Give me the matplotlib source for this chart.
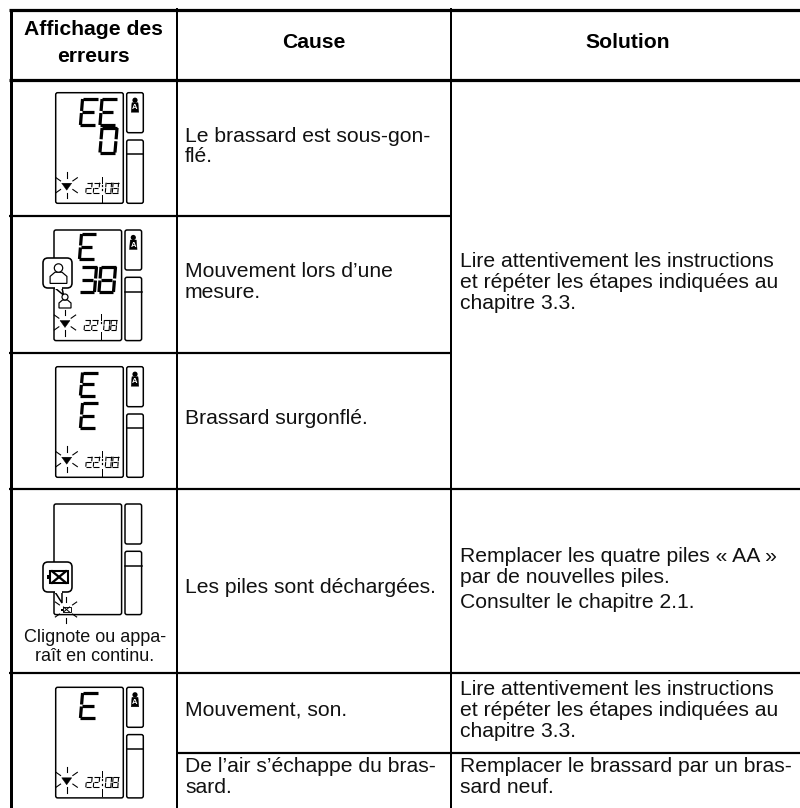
import math
import matplotlib
matplotlib.use('Agg')
import matplotlib.pyplot as plt
from matplotlib.patches import FancyBboxPatch, Polygon, Circle, Rectangle

plt.rcParams['font.family'] = ['Liberation Sans', 'DejaVu Sans']

# table content
headers = [['Affichage des', 'erreurs'], ['Cause'], ['Solution']]
cause_lines = [
    ['Le brassard est sous-gon-', 'flé.'],
    ['Mouvement lors d’une', 'mesure.'],
    ['Brassard surgonflé.'],
    ['Les piles sont déchargées.'],
    ['Mouvement, son.'],
    ['De l’air s’échappe du bras-', 'sard.'],
]
solution_lines = [
    ['Lire attentivement les instructions', 'et répéter les étapes indiquées au', 'chapitre 3.3.'],
    ['Remplacer les quatre piles « AA »', 'par de nouvelles piles.'],
    ['Consulter le chapitre 2.1.'],
    ['Lire attentivement les instructions', 'et répéter les étapes indiquées au', 'chapitre 3.3.'],
    ['Remplacer le brassard par un bras-', 'sard neuf.'],
]
caption = ['Clignote ou appa-', 'raît en continu.']
lcd_time = '22:08'

# baselines of the first line of each block (px)
cause_y = [141.7, 277, 424, 593, 716, 772]
solution_y = [267, 562, 608, 695, 772]
line_gap = 20.8

col_x = [10.5, 176.7, 451]
text_x = [185, 460]
major_y = [10, 79.5]
row_y = [216, 352.5, 489, 673]
sub_y = 752.5

SEGS = {
    'a': ((0, 1), (1, 1)), 'b': ((1, 1), (1, .54)), 'c': ((1, .46), (1, 0)),
    'd': ((0, 0), (1, 0)), 'e': ((0, .46), (0, 0)), 'f': ((0, 1), (0, .54)),
    'g': ((0.05, .5), (.8, .5)),
}
DIGITS = {'E': 'adefg', '0': 'abcdef', '3': 'abcdg', '8': 'abcdefg', '2': 'abdeg'}

fig = plt.figure(figsize=(8, 8.08), dpi=100)
ax = fig.add_axes([0, 0, 1, 1])
ax.set_xlim(0, 800)
ax.set_ylim(808, 0)
ax.axis('off')


def px(w):
    return w * 0.72


def digit(ch, x, y, w, h, lw=3.2, skew=0.14):
    # x,y = top left of the cell
    for s in DIGITS[ch]:
        (x1, y1), (x2, y2) = SEGS[s]
        xs = [x + (x1 + skew * y1 - skew / 2) * w, x + (x2 + skew * y2 - skew / 2) * w]
        ys = [y + (1 - y1) * h, y + (1 - y2) * h]
        ax.plot(xs, ys, color='black', lw=px(lw), solid_capstyle='butt', zorder=4)


def round_box(x, y, w, h, r=2.0, lw=1.5, z=3):
    ax.add_patch(FancyBboxPatch((x + r, y + r), w - 2 * r, h - 2 * r,
                                boxstyle=f'round,pad={r},rounding_size={r}',
                                fc='white', ec='black', lw=px(lw), zorder=z))


def blink(cx, cy, r1=7.5, r2=13):
    for a in (90, 270, 35, 145, 215, 325):
        t = math.radians(a)
        ax.plot([cx + r1 * math.cos(t), cx + r2 * math.cos(t)],
                [cy + r1 * math.sin(t), cy + r2 * math.sin(t)],
                color='black', lw=px(1.1), zorder=6)


def small_person(x, y):
    ax.add_patch(Circle((x, y - 5.5), 2.6, fc='black', ec='black', lw=0, zorder=5))
    ax.add_patch(Polygon([(x - 3.8, y + 6.5), (x - 3, y - 3), (x + 3, y - 3), (x + 3.8, y + 6.5)],
                         fc='black', ec='black', lw=0.3, zorder=5))
    ax.text(x, y + 2.2, 'A', color='white', fontsize=5.5, fontweight='bold',
            ha='center', va='center', zorder=6)


def outline_person(x, y, s=1.0):
    ax.add_patch(Circle((x, y - 5 * s), 3 * s, fc='white', ec='black', lw=px(1.2), zorder=7))
    ax.add_patch(Polygon([(x - 6 * s, y + 6 * s), (x - 6 * s, y + 1 * s), (x - 2.5 * s, y - 2 * s),
                          (x + 2.5 * s, y - 2 * s), (x + 6 * s, y + 1 * s), (x + 6 * s, y + 6 * s)],
                         fc='white', ec='black', lw=px(1.2), zorder=6))


def battery(x, y, s=1.0):
    ax.add_patch(Rectangle((x - 8 * s, y - 5.5 * s), 16 * s, 11 * s, fc='white', ec='black',
                           lw=px(1.8 * s), zorder=7))
    ax.add_patch(Rectangle((x - 10.5 * s, y - 2 * s), 2.5 * s, 4 * s, fc='black', ec='black',
                           lw=0, zorder=7))
    ax.plot([x - 6 * s, x + 6 * s], [y - 5 * s, y + 5 * s], color='black', lw=px(2 * s), zorder=8)
    ax.plot([x - 6 * s, x + 6 * s], [y + 5 * s, y - 5 * s], color='black', lw=px(2 * s), zorder=8)


def panel(x0, y0, with_person=True, with_clock=True):
    # main window plus the two side boxes
    round_box(x0, y0, 67.6, 110.6)
    round_box(x0 + 71, y0, 16.6, 40)
    round_box(x0 + 71, y0 + 47.3, 16.6, 63.3)
    ax.plot([x0 + 71, x0 + 87.6], [y0 + 61.5, y0 + 61.5], color='black', lw=px(1.5), zorder=4)
    if with_person:
        small_person(x0 + 79.3, y0 + 13)
    if with_clock:
        ax.add_patch(Polygon([(x0 + 6, y0 + 90.5), (x0 + 16, y0 + 90.5), (x0 + 11, y0 + 97.5)],
                             fc='black', ec='black', lw=0.3, zorder=5))
        blink(x0 + 11, y0 + 92.5)
        xs = [30.5, 38, None, 50, 57]
        chars = [c for c in lcd_time]
        for c, dx in zip(chars, xs):
            if c == ':':
                continue
            digit(c, x0 + dx, y0 + 90, 5.5, 10, lw=1.1)
        ax.plot([x0 + 46.5] * 2, [y0 + 84, y0 + 90], color='black', lw=px(1), zorder=4)
        ax.plot([x0 + 46.5] * 2, [y0 + 102, y0 + 109], color='black', lw=px(1), zorder=4)
        ax.plot([x0 + 46.5] * 2, [y0 + 92, y0 + 92.8], color='black', lw=px(1.2), zorder=4)
        ax.plot([x0 + 46.5] * 2, [y0 + 96.5, y0 + 97.3], color='black', lw=px(1.2), zorder=4)


def callout(x, y, w, h, tail_base, tip):
    round_box(x, y, w, h, r=5, lw=1.6, z=5)
    ax.add_patch(Polygon([(tail_base[0], y + h), tip, (tail_base[1], y + h)], closed=False,
                         fc='white', ec='black', lw=px(1.5), zorder=6))
    ax.plot([tail_base[0] + 1, tail_base[1] - 1], [y + h, y + h], color='white', lw=px(2), zorder=6)


# table grid
line_opts = dict(color='black', solid_capstyle='butt', zorder=2)
ax.plot([col_x[0], col_x[0]], [9, 808], lw=px(3), **line_opts)
for x in col_x[1:]:
    ax.plot([x, x], [8, 808], lw=px(2), **line_opts)
for y in major_y:
    ax.plot([9, 800], [y, y], lw=px(3.2), **line_opts)
ax.plot([9, col_x[2]], [row_y[0], row_y[0]], lw=px(2.2), **line_opts)
ax.plot([9, col_x[2]], [row_y[1], row_y[1]], lw=px(2.2), **line_opts)
ax.plot([9, 800], [row_y[2], row_y[2]], lw=px(2.2), **line_opts)
ax.plot([9, 800], [row_y[3], row_y[3]], lw=px(2.2), **line_opts)
ax.plot([col_x[1], 800], [sub_y, sub_y], lw=px(2.2), **line_opts)

# headers
for lines, cx, ys in zip(headers, [93.5, 314, 628], [[35, 62], [48], [48]]):
    for line, y in zip(lines, ys):
        ax.text(cx, y, line, fontsize=15.2, fontweight='bold', ha='center', va='baseline')

# body text
for lines, y in zip(cause_lines, cause_y):
    for i, line in enumerate(lines):
        ax.text(text_x[0], y + i * line_gap, line, fontsize=15.2, ha='left', va='baseline', color='#111111')
for lines, y in zip(solution_lines, solution_y):
    for i, line in enumerate(lines):
        ax.text(text_x[1], y + i * line_gap, line, fontsize=15.2, ha='left', va='baseline', color='#111111')
for line, y in zip(caption, [642, 661]):
    ax.text(95, y, line, fontsize=12.95, ha='center', va='baseline', color='#111111')

# row 1
panel(55.7, 92.7)
digit('E', 81.5, 99, 15, 26)
digit('E', 101, 99, 15, 26)
digit('0', 101, 128, 15, 24.5)

# row 2
panel(54, 230)
digit('E', 80.5, 234, 14.5, 25)
digit('3', 81, 267, 14.5, 25)
digit('8', 100, 267, 14.5, 25)
callout(43, 258, 29, 30, (55, 62), (63.5, 295))
outline_person(58.5, 275, 1.4)
outline_person(65, 302, 1.0)

# row 3
panel(55.7, 366.7)
digit('E', 81.5, 372.5, 15, 23)
digit('E', 81.5, 403, 15, 25)

# row 4
panel(54, 504, with_person=False, with_clock=False)
callout(43, 562, 29, 30, (55, 62), (62, 603))
battery(59, 577, 1.15)
battery(66.5, 609.5, 0.5)
blink(66, 609.5, 8, 13)

# row 5
panel(55.7, 687.3)
digit('E', 81.5, 693, 15, 25)

fig.savefig('out.png', dpi=100, facecolor='white')
